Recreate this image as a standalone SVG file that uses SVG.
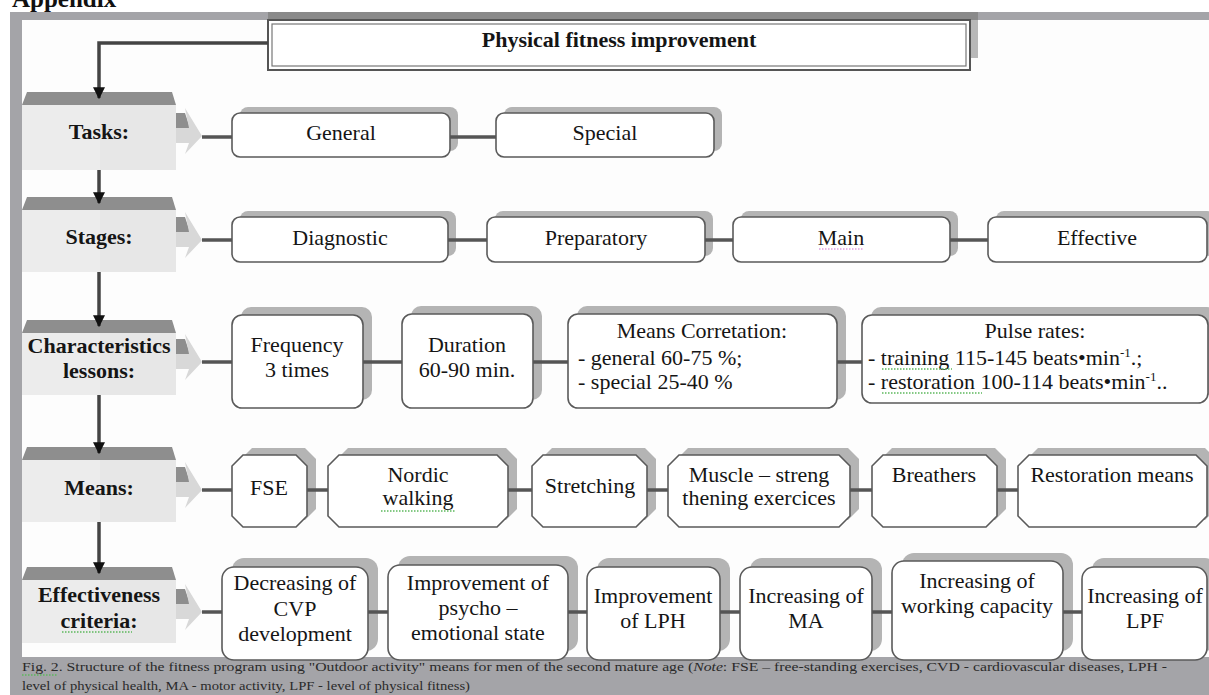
<svg xmlns="http://www.w3.org/2000/svg" width="1209" height="695" viewBox="0 0 1209 695">
<defs>
<style>
.lbl{font-family:"Liberation Serif",serif;font-size:22px;font-weight:bold;fill:#151515;text-anchor:middle}
.t{font-family:"Liberation Serif",serif;font-size:22px;fill:#151515;text-anchor:middle}
.tl{font-family:"Liberation Serif",serif;font-size:22px;fill:#151515}
.cap{font-family:"Liberation Serif",serif;font-size:13px;fill:#2a2a2a}
.box{fill:#fff;stroke:#5a5a5a;stroke-width:1.6}
.sh{fill:#b4b4b4}
.hdr{fill:#8e8e8e}
.body{fill:#e7e7e7}
.body2{fill:#ececec}
.adk{fill:#8e8e8e}
.alt{fill:#d8d8d8}
.con{stroke:#555;stroke-width:3.5;fill:none}
.arr{stroke:#444;stroke-width:3.5;fill:none;marker-end:url(#ah)}
.sp{stroke:#5cb85c;stroke-width:1.3;stroke-dasharray:1.5 1.5;fill:none}
</style>
<marker id="ah" viewBox="0 0 10 10" refX="9" refY="5" markerWidth="12" markerHeight="12" markerUnits="userSpaceOnUse" orient="auto">
<path d="M0,0 L10,5 L0,10 z" fill="#111"/>
</marker>
</defs>

<!-- page / frame -->
<text x="12" y="7" font-family="Liberation Serif, serif" font-size="25" font-weight="bold" fill="#111">Appendix</text>
<rect x="10" y="12" width="1199" height="683" fill="#a4a4a8"/>
<rect x="22" y="20" width="1187" height="637" fill="#fdfdfd"/>
<rect x="268" y="12" width="710" height="8" fill="#8a8a8a"/>

<!-- title -->
<g id="title">
<rect x="970" y="20" width="8" height="38" fill="#b8b8b8"/>
<rect x="268" y="20" width="702" height="50" fill="#fff" stroke="#555" stroke-width="2"/>
<rect x="272" y="24" width="694" height="42" fill="none" stroke="#777" stroke-width="1.2"/>
<text class="lbl" x="619" y="47">Physical fitness improvement</text>
</g>

<!-- category nodes -->
<g id="cat-tasks">
<polygon class="hdr" points="27,92 172,92 176,105 22,105"/>
<rect class="body" x="22" y="105" width="154" height="65"/>
<rect class="body2" x="22" y="105" width="78" height="65"/>
<polygon class="adk" points="176,113 185,113 190,128 176,128"/>
<polygon class="alt" points="176,128 189,128 185,108 202,136 185,154 189,143 176,143"/>
<text class="lbl" x="99" y="139">Tasks:</text>
</g>
<g id="cat-stages">
<polygon class="hdr" points="27,197 172,197 176,210 22,210"/>
<rect class="body" x="22" y="210" width="154" height="62"/>
<rect class="body2" x="22" y="210" width="78" height="62"/>
<polygon class="adk" points="176,217 185,217 190,232 176,232"/>
<polygon class="alt" points="176,232 189,232 185,212 202,240 185,258 189,247 176,247"/>
<text class="lbl" x="99" y="244">Stages:</text>
</g>
<g id="cat-characteristics">
<polygon class="hdr" points="27,320 172,320 176,333 22,333"/>
<rect class="body" x="22" y="333" width="154" height="62"/>
<rect class="body2" x="22" y="333" width="78" height="62"/>
<polygon class="adk" points="176,339 185,339 190,354 176,354"/>
<polygon class="alt" points="176,354 189,354 185,334 202,362 185,380 189,369 176,369"/>
<text class="lbl" x="99" y="353">Characteristics</text>
<text class="lbl" x="99" y="378">lessons:</text>
</g>
<g id="cat-means">
<polygon class="hdr" points="27,447 172,447 176,460 22,460"/>
<rect class="body" x="22" y="460" width="154" height="62"/>
<rect class="body2" x="22" y="460" width="78" height="62"/>
<polygon class="adk" points="176,467 185,467 190,482 176,482"/>
<polygon class="alt" points="176,482 189,482 185,462 202,490 185,508 189,497 176,497"/>
<text class="lbl" x="99" y="495">Means:</text>
</g>
<g id="cat-effectiveness">
<polygon class="hdr" points="27,567 172,567 176,580 22,580"/>
<rect class="body" x="22" y="580" width="154" height="63"/>
<rect class="body2" x="22" y="580" width="78" height="63"/>
<polygon class="adk" points="176,589 185,589 190,604 176,604"/>
<polygon class="alt" points="176,604 189,604 185,584 202,612 185,630 189,619 176,619"/>
<text class="lbl" x="99" y="602">Effectiveness</text>
<text class="lbl" x="99" y="628">criteria:</text>
<path class="sp" d="M62,632 H132"/>
</g>

<!-- tasks row -->
<g id="task-general"><rect class="sh" x="240" y="107" width="218" height="44" rx="8"/><rect class="box" x="232" y="113" width="218" height="44" rx="8"/><text class="t" x="341" y="140">General</text></g>
<g id="task-special"><rect class="sh" x="504" y="107" width="218" height="44" rx="8"/><rect class="box" x="496" y="113" width="218" height="44" rx="8"/><text class="t" x="605" y="140">Special</text></g>

<!-- stages row -->
<g id="stage-diagnostic"><rect class="sh" x="240" y="211" width="216" height="45" rx="8"/><rect class="box" x="232" y="217" width="216" height="45" rx="8"/><text class="t" x="340" y="245">Diagnostic</text></g>
<g id="stage-preparatory"><rect class="sh" x="495" y="211" width="218" height="45" rx="8"/><rect class="box" x="487" y="217" width="218" height="45" rx="8"/><text class="t" x="596" y="245">Preparatory</text></g>
<g id="stage-main"><rect class="sh" x="741" y="211" width="217" height="45" rx="8"/><rect class="box" x="733" y="217" width="217" height="45" rx="8"/><text class="t" x="841" y="245">Main</text><path d="M819,249 H863" stroke="#d070d0" stroke-width="1.2" stroke-dasharray="1.5 1.5"/></g>
<g id="stage-effective"><rect class="sh" x="996" y="211" width="219" height="45" rx="8"/><rect class="box" x="988" y="217" width="219" height="45" rx="8"/><text class="t" x="1097" y="245">Effective</text></g>

<!-- characteristics row -->
<g id="char-frequency"><rect class="sh" x="241" y="307" width="131" height="93" rx="10"/><rect class="box" x="232" y="315" width="131" height="93" rx="10"/><text class="t" x="297" y="352">Frequency</text><text class="t" x="297" y="377">3 times</text></g>
<g id="char-duration"><rect class="sh" x="411" y="306" width="131" height="94" rx="10"/><rect class="box" x="402" y="314" width="131" height="94" rx="10"/><text class="t" x="467" y="352">Duration</text><text class="t" x="467" y="377">60-90 min.</text></g>
<g id="char-means"><rect class="sh" x="577" y="306" width="269" height="94" rx="10"/><rect class="box" x="568" y="314" width="269" height="94" rx="10"/><text class="t" x="702" y="338">Means Corretation:</text><text class="tl" x="578" y="365">- general 60-75 %;</text><text class="tl" x="578" y="389">- special 25-40 %</text></g>
<g id="char-pulse"><rect class="sh" x="871" y="307" width="346" height="88" rx="10"/><rect class="box" x="862" y="315" width="346" height="88" rx="10"/><text class="t" x="1035" y="338">Pulse rates:</text><text class="tl" x="868" y="365">- training 115-145 beats•min<tspan font-size="13" dy="-8">-1</tspan><tspan dy="8">.;</tspan></text><text class="tl" x="868" y="389">- restoration 100-114 beats•min<tspan font-size="13" dy="-8">-1</tspan><tspan dy="8">..</tspan></text><path class="sp" d="M882,369 H952 M882,393 H982"/></g>

<!-- means row -->
<g id="mean-fse"><polygon class="sh" points="252,448 305,448 316,459 316,509 305,520 252,520 241,509 241,459"/><polygon class="box" points="243,455 296,455 307,466 307,516 296,527 243,527 232,516 232,466"/><text class="t" x="269" y="495">FSE</text></g>
<g id="mean-nordic"><polygon class="sh" points="348,448 506,448 517,459 517,509 506,520 348,520 337,509 337,459"/><polygon class="box" points="339,455 497,455 508,466 508,516 497,527 339,527 328,516 328,466"/><text class="t" x="418" y="482">Nordic</text><text class="t" x="418" y="505">walking</text><path class="sp" d="M381,511 H456"/></g>
<g id="mean-stretching"><polygon class="sh" points="552,448 645,448 656,459 656,509 645,520 552,520 541,509 541,459"/><polygon class="box" points="543,455 636,455 647,466 647,516 636,527 543,527 532,516 532,466"/><text class="t" x="590" y="493">Stretching</text></g>
<g id="mean-muscle"><polygon class="sh" points="688,448 848,448 859,459 859,509 848,520 688,520 677,509 677,459"/><polygon class="box" points="679,455 839,455 850,466 850,516 839,527 679,527 668,516 668,466"/><text class="t" x="759" y="482">Muscle – streng</text><text class="t" x="759" y="505">thening exercices</text></g>
<g id="mean-breathers"><polygon class="sh" points="892,448 995,448 1006,459 1006,509 995,520 892,520 881,509 881,459"/><polygon class="box" points="883,455 986,455 997,466 997,516 986,527 883,527 872,516 872,466"/><text class="t" x="934" y="482">Breathers</text></g>
<g id="mean-restoration"><polygon class="sh" points="1038,448 1205,448 1216,459 1216,509 1205,520 1038,520 1027,509 1027,459"/><polygon class="box" points="1029,455 1196,455 1207,466 1207,516 1196,527 1029,527 1018,516 1018,466"/><text class="t" x="1112" y="482">Restoration means</text></g>

<!-- criteria row -->
<g id="crit-cvp"><rect class="sh" x="232" y="558" width="146" height="93" rx="12"/><rect class="box" x="222" y="567" width="146" height="93" rx="12"/><text class="t" x="295" y="590">Decreasing of</text><text class="t" x="295" y="616">CVP</text><text class="t" x="295" y="641">development</text></g>
<g id="crit-psycho"><rect class="sh" x="398" y="556" width="180" height="95" rx="12"/><rect class="box" x="388" y="565" width="180" height="95" rx="12"/><text class="t" x="478" y="590">Improvement of</text><text class="t" x="478" y="615">psycho –</text><text class="t" x="478" y="640">emotional state</text></g>
<g id="crit-lph"><rect class="sh" x="597" y="558" width="133" height="93" rx="12"/><rect class="box" x="587" y="567" width="133" height="93" rx="12"/><text class="t" x="653" y="603">Improvement</text><text class="t" x="653" y="628">of LPH</text></g>
<g id="crit-ma"><rect class="sh" x="750" y="558" width="132" height="93" rx="12"/><rect class="box" x="740" y="567" width="132" height="93" rx="12"/><text class="t" x="806" y="603">Increasing of</text><text class="t" x="806" y="628">MA</text></g>
<g id="crit-work"><rect class="sh" x="902" y="553" width="171" height="98" rx="12"/><rect class="box" x="892" y="561" width="171" height="99" rx="12"/><text class="t" x="977" y="588">Increasing of</text><text class="t" x="977" y="613">working capacity</text></g>
<g id="crit-lpf"><rect class="sh" x="1092" y="558" width="125" height="93" rx="12"/><rect class="box" x="1082" y="567" width="125" height="93" rx="12"/><text class="t" x="1145" y="603">Increasing of</text><text class="t" x="1145" y="628">LPF</text></g>

<!-- connectors -->
<g id="connectors">
<path class="arr" d="M268,43 H99 V98"/>
<path class="arr" d="M99,170 V203"/>
<path class="arr" d="M99,272 V326"/>
<path class="arr" d="M99,395 V453"/>
<path class="arr" d="M99,522 V573"/>
<path class="con" d="M202,137 H232 M450,137 H496"/>
<path class="con" d="M202,240 H232 M448,240 H487 M705,240 H733 M950,240 H988"/>
<path class="con" d="M202,362 H232 M363,362 H402 M533,362 H568 M837,362 H862"/>
<path class="con" d="M202,490 H232 M307,490 H328 M508,490 H532 M647,490 H668 M850,490 H872 M997,490 H1018"/>
<path class="con" d="M202,612 H222 M368,612 H388 M568,612 H587 M720,612 H740 M872,612 H892 M1063,612 H1082"/>
</g>

<!-- caption -->
<text class="cap" x="22" y="671" textLength="1145" lengthAdjust="spacingAndGlyphs">Fig. 2. Structure of the fitness program using "Outdoor activity" means for men of the second mature age (<tspan font-style="italic">Note</tspan>: FSE – free-standing exercises, CVD - cardiovascular diseases, LPH -</text>
<path class="sp" d="M22,675 H58"/>
<text class="cap" x="22" y="690" textLength="448" lengthAdjust="spacingAndGlyphs">level of physical health, MA - motor activity, LPF - level of physical fitness)</text>
</svg>
